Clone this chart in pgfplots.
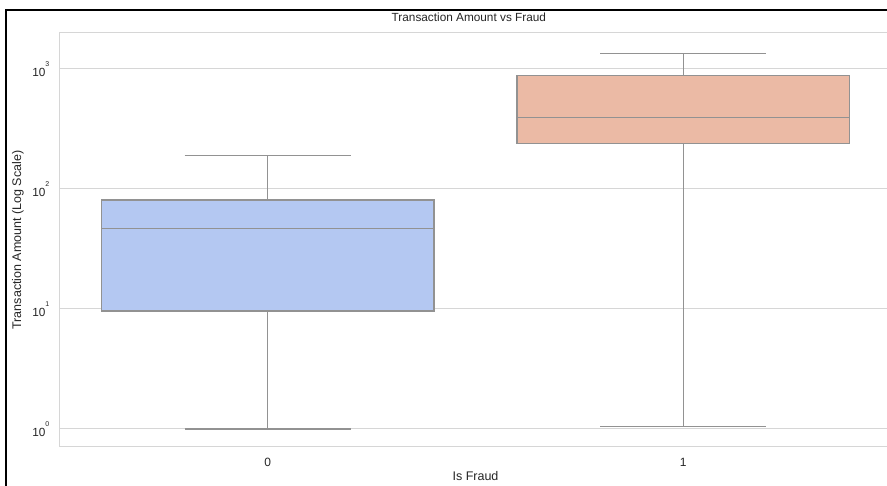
\documentclass[border=0pt]{standalone}
\usepackage{pgfplots}
\pgfplotsset{compat=1.18}
\usepackage{fontspec}
\setmainfont{Liberation Sans}
\definecolor{boxblue}{HTML}{B4C8F2}
\definecolor{boxred}{HTML}{EBBAA5}
\definecolor{linegray}{HTML}{929292}
\definecolor{gridgray}{HTML}{D6D6D6}
\definecolor{txt}{HTML}{262626}
\newcommand{\tl}[1]{10\raisebox{10pt}{\fontsize{7}{8}\selectfont #1}}
\begin{document}
\begin{tikzpicture}
\useasboundingbox (0pt,0pt) rectangle (887pt,486pt);
\fill[white] (0pt,0pt) rectangle (887pt,486pt);
\clip (0pt,0pt) rectangle (887pt,486pt);
\begin{axis}[
  at={(60pt,39pt)}, anchor=south west,
  scale only axis, width=831pt, height=414pt,
  xmin=-0.5, xmax=1.5,
  ymode=log, ymin=0.708, ymax=1995,
  xtick={0,1}, xticklabels={0,1},
  ytick={1,10,100,1000},
  yticklabels={{\tl{0}},{\tl{1}},{\tl{2}},{\tl{3}}},
  tick style={draw=none},
  major tick length=0pt, minor tick length=0pt,
  ymajorgrids=true, xmajorgrids=false,
  grid style={gridgray, line width=1pt},
  axis line style={gridgray, line width=1pt},
  xticklabel style={font=\fontsize{12}{14}\selectfont, text=txt, anchor=base, inner sep=0pt, yshift=-19.7pt},
  yticklabel style={font=\fontsize{11.8}{14}\selectfont, text=txt, anchor=east, inner sep=0pt, xshift=-10.5pt},
  title={Transaction Amount vs Fraud},
  title style={font=\fontsize{11.8}{14}\selectfont, text=txt, at={(axis description cs:0.492,1)}, anchor=base, inner sep=0pt, yshift=5.7pt},
  xlabel={Is Fraud},
  xlabel style={font=\fontsize{12.5}{14}\selectfont, text=txt, at={(axis description cs:0.5,0)}, anchor=base, inner sep=0pt, yshift=-34pt},
  ylabel={Transaction Amount (Log Scale)},
  ylabel style={font=\fontsize{12.5}{14}\selectfont, text=txt, at={(axis description cs:-0.0433,0.5)}, anchor=south, inner sep=0pt},
  wl/.style={draw=linegray, line width=1.2pt, mark=none, solid},
]
% Is Fraud = 0
\addplot[wl] coordinates {(0,9.62) (0,1.0)};
\addplot[wl] coordinates {(-0.2,1.0) (0.2,1.0)};
\addplot[wl] coordinates {(0,81.0) (0,191)};
\addplot[wl] coordinates {(-0.2,191) (0.2,191)};
\addplot[wl, fill=boxblue] coordinates {(-0.4,9.62) (0.4,9.62) (0.4,81.0) (-0.4,81.0)} --cycle;
\addplot[wl] coordinates {(-0.4,47.0) (0.4,47.0)};
% Is Fraud = 1
\addplot[wl] coordinates {(1,240) (1,1.05)};
\addplot[wl] coordinates {(0.8,1.05) (1.2,1.05)};
\addplot[wl] coordinates {(1,887) (1,1352)};
\addplot[wl] coordinates {(0.8,1352) (1.2,1352)};
\addplot[wl, fill=boxred] coordinates {(0.6,240) (1.4,240) (1.4,887) (0.6,887)} --cycle;
\addplot[wl] coordinates {(0.6,393) (1.4,393)};
\end{axis}
\draw[black, line width=2pt] (6pt,0pt) -- (6pt,477pt);
\draw[black, line width=2pt] (5pt,476pt) -- (887pt,476pt);
\end{tikzpicture}
\end{document}
